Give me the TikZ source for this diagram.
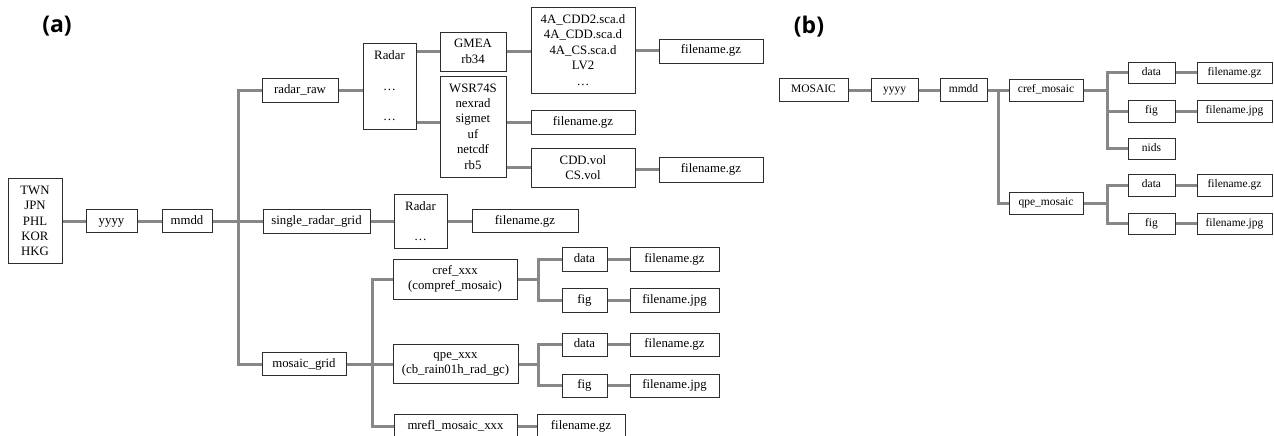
\documentclass[tikz,border=0pt]{standalone}
\usepackage{fontspec}
\setmainfont{Liberation Serif}
\newfontfamily\labelfont{Open Sans}
\usetikzlibrary{backgrounds}

\definecolor{linkgray}{RGB}{135,135,135}
\definecolor{boxline}{RGB}{45,45,45}

\tikzset{
  frame/.style 2 args={draw=boxline, line width=0.9pt, inner sep=0pt, align=center,
    minimum width=#1, minimum height=#2, font=\fontsize{12.8}{15.4}\selectfont},
  box/.style 2 args={frame={#1}{#2}, text height=8.8pt, text depth=2.8pt},
  smallbox/.style 2 args={frame={#1}{#2}, text height=8pt, text depth=2.5pt,
    font=\fontsize{11.5}{13.8}\selectfont},
  link/.style={draw=linkgray, line width=3pt},
  panel/.style={font=\labelfont\bfseries\fontsize{23}{27}\selectfont}
}

\begin{document}
\begin{tikzpicture}[x=1pt,y=-1pt]
\useasboundingbox (0,0) rectangle (1274,436);

% Panel labels
\node[panel] (labA) at (57,26) {(a)};
\node[panel] (labB) at (809,27) {(b)};

% (a) Boxes
\node[frame={54}{85}] (region) at (35,221) {TWN\\JPN\\PHL\\KOR\\HKG};
\node[box={51}{23}] (yyyyA) at (111.5,221) {yyyy};
\node[box={50}{23}] (mmddA) at (187,221) {mmdd};

\node[box={76}{24}] (radarraw) at (300,90) {radar\_raw};
\node[box={107}{24}] (singlegrid) at (316.5,221) {single\_radar\_grid};
\node[box={84}{23}] (mosaicgrid) at (304,364) {mosaic\_grid};

\node[frame={53}{86}] (radarA) at (389.5,86) {Radar\\[15pt]\dots\\[15pt]\dots};
\node[frame={66}{39}] (gmea) at (473,51.5) {GMEA\\rb34};
\node[frame={66}{101}] (wsr) at (473,126.5) {WSR74S\\nexrad\\sigmet\\uf\\netcdf\\rb5};
\node[frame={104}{86}] (fourA) at (583,50) {4A\_CDD2.sca.d\\4A\_CDD.sca.d\\4A\_CS.sca.d\\LV2\\\dots};
\node[box={104}{24}] (fgzA) at (711,51) {filename.gz};
\node[box={104}{24}] (fgzB) at (583,122) {filename.gz};
\node[frame={104}{39}] (cddvol) at (583,167.5) {CDD.vol\\CS.vol};
\node[box={104}{25}] (fgzC) at (711,169.5) {filename.gz};

\node[frame={53}{54}] (radarB) at (420.5,221) {Radar\\[15pt]\dots};
\node[box={106}{23}] (fgzD) at (525,221) {filename.gz};

\node[frame={124}{40}] (crefxxx) at (455,279) {cref\_xxx\\(compref\_mosaic)};
\node[box={45}{24}] (dataA) at (584.5,259) {data};
\node[box={89}{24}] (fgzE) at (674.5,259) {filename.gz};
\node[box={45}{24}] (figA) at (584.5,300) {fig};
\node[box={89}{24}] (fjpgA) at (674.5,300) {filename.jpg};

\node[frame={125}{39}] (qpexxx) at (455.5,364) {qpe\_xxx\\(cb\_rain01h\_rad\_gc)};
\node[box={45}{23}] (dataB) at (584.5,344.5) {data};
\node[box={89}{23}] (fgzF) at (674.5,344.5) {filename.gz};
\node[box={45}{23}] (figB) at (584.5,385.5) {fig};
\node[box={89}{23}] (fjpgB) at (674.5,385.5) {filename.jpg};

\node[box={123}{24}] (mrefl) at (455.5,426) {mrefl\_mosaic\_xxx};
\node[box={88}{24}] (fgzG) at (581,426) {filename.gz};

% (b) Boxes
\node[smallbox={69}{23}] (mosaic) at (813.5,90) {MOSAIC};
\node[smallbox={47}{23}] (yyyyB) at (894.5,90) {yyyy};
\node[smallbox={47}{23}] (mmddB) at (963.5,90) {mmdd};
\node[smallbox={74}{22}] (crefmos) at (1046,90) {cref\_mosaic};
\node[smallbox={74}{22}] (qpemos) at (1046,203) {qpe\_mosaic};

\node[smallbox={47}{21}] (dataC) at (1151.5,72.5) {data};
\node[smallbox={47}{22}] (figC) at (1151.5,111) {fig};
\node[smallbox={47}{21}] (nids) at (1151.5,148.5) {nids};
\node[smallbox={75}{21}] (fgzH) at (1234.5,72.5) {filename.gz};
\node[smallbox={75}{22}] (fjpgC) at (1234.5,111) {filename.jpg};

\node[smallbox={47}{22}] (dataD) at (1151.5,185) {data};
\node[smallbox={47}{21}] (figD) at (1151.5,223.5) {fig};
\node[smallbox={75}{22}] (fgzI) at (1234.5,185) {filename.gz};
\node[smallbox={75}{21}] (fjpgD) at (1234.5,223.5) {filename.jpg};

% Fork points
\coordinate (trunk) at (238,221);
\coordinate (mfork) at (372,364);
\coordinate (cfork) at (538,279);
\coordinate (qfork) at (538,364);
\coordinate (bfork) at (998,90);
\coordinate (crfork) at (1107,90);
\coordinate (qpfork) at (1107,203);

\begin{scope}[on background layer]
% (a) Connectors
\draw[link] (region) -- (yyyyA);
\draw[link] (yyyyA) -- (mmddA);
\draw[link] (mmddA.east) -- (singlegrid.west);
\draw[link] (radarraw.west) -| (trunk) |- (mosaicgrid.west);

\draw[link] (radarraw.east) -- (radarraw.east -| radarA.west);
\draw[link] (radarA.east |- gmea.west) -- (gmea.west);
\draw[link] (radarA.east |- fgzB) -- (wsr.west |- fgzB);
\draw[link] (gmea.east) -- (gmea.east -| fourA.west);
\draw[link] (fourA.east |- fgzA) -- (fgzA.west);
\draw[link] (wsr.east |- fgzB) -- (fgzB.west);
\draw[link] (wsr.east |- cddvol) -- (cddvol.west);
\draw[link] (cddvol.east |- fgzC) -- (fgzC.west);

\draw[link] (singlegrid.east) -- (singlegrid.east -| radarB.west);
\draw[link] (radarB.east |- fgzD) -- (fgzD.west);

\draw[link] (crefxxx.west) -| (mfork) |- (mrefl.west);
\draw[link] (mosaicgrid.east) -- (qpexxx.west);
\draw[link] (crefxxx.east) -- (cfork);
\draw[link] (dataA.west) -| (cfork) |- (figA.west);
\draw[link] (dataA) -- (fgzE);
\draw[link] (figA) -- (fjpgA);
\draw[link] (qpexxx.east) -- (qfork);
\draw[link] (dataB.west) -| (qfork) |- (figB.west);
\draw[link] (dataB) -- (fgzF);
\draw[link] (figB) -- (fjpgB);
\draw[link] (mrefl) -- (fgzG);

% (b) Connectors
\draw[link] (mosaic) -- (yyyyB);
\draw[link] (yyyyB) -- (mmddB);
\draw[link] (mmddB.east) -- (crefmos.west);
\draw[link] (bfork) |- (qpemos.west);
\draw[link] (crefmos.east) -- (crfork);
\draw[link] (dataC.west) -| (crfork) |- (nids.west);
\draw[link] (figC.west -| crfork) -- (figC.west);
\draw[link] (dataC) -- (fgzH);
\draw[link] (figC) -- (fjpgC);
\draw[link] (qpemos.east) -- (qpfork);
\draw[link] (dataD.west) -| (qpfork) |- (figD.west);
\draw[link] (dataD) -- (fgzI);
\draw[link] (figD) -- (fjpgD);
\end{scope}
\end{tikzpicture}
\end{document}
